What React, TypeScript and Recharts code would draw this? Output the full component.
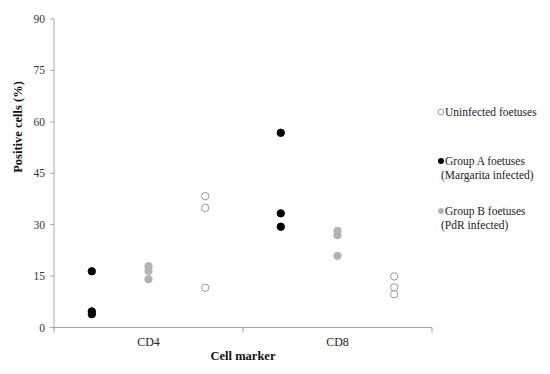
import React from 'react';
import { ScatterChart, Scatter, XAxis, YAxis } from 'recharts';

const categories = ['CD4', 'CD8'];
const yTicks = [0, 15, 30, 45, 60, 75, 90];

// values per category: [CD4 values, CD8 values]
const uninfected = [
  [38.3, 34.9, 11.6],
  [14.9, 11.7, 9.7],
];
const groupA = [
  [16.4, 4.7, 3.9],
  [56.8, 33.3, 29.4],
];
const groupB = [
  [17.9, 16.5, 14.1],
  [28.2, 26.9, 20.9],
];

const legendLabels = [
  ['Uninfected foetuses'],
  ['Group A foetuses', '(Margarita infected)'],
  ['Group B foetuses', '(PdR infected)'],
];

const FONT = '"Liberation Serif", "Times New Roman", serif';

// position of each group inside a category band (fraction of band)
const OFFSET_A = 0.2;
const OFFSET_B = 0.5;
const OFFSET_U = 0.8;

function build(series: number[][], offset: number) {
  const out: { x: number; y: number }[] = [];
  series.forEach((vals, ci) => {
    vals.forEach((v) => out.push({ x: ci + offset, y: v }));
  });
  return out;
}

const dataA = build(groupA, OFFSET_A);
const dataB = build(groupB, OFFSET_B);
const dataU = build(uninfected, OFFSET_U);

const xTicks: number[] = [];
for (let i = 0; i <= categories.length; i++) {
  xTicks.push(i);
  if (i < categories.length) xTicks.push(i + 0.5);
}

const XTick = (props: any) => {
  const { x, y, payload } = props;
  const v = payload.value;
  if (Number.isInteger(v)) {
    return <line x1={x} y1={y} x2={x} y2={y + 5} stroke="#a6a6a6" strokeWidth={1} />;
  }
  const label = categories[Math.floor(v)];
  return (
    <text x={x} y={y + 14} textAnchor="middle" dominantBaseline="central" fontFamily={FONT} fontSize={12} fill="#222">
      {label}
    </text>
  );
};

const dot = (fill: string, stroke: string) => (props: any) => (
  <circle cx={props.cx} cy={props.cy} r={3.7} fill={fill} stroke={stroke} strokeWidth={1} />
);

const LegendBox = () => {
  const markers = [
    <circle cx={4} cy={4} r={3} fill="#fff" stroke="#999" strokeWidth={1} />,
    <circle cx={4} cy={4} r={3} fill="#000" />,
    <circle cx={4} cy={4} r={3} fill="#b3b3b3" />,
  ];
  const tops = [0, 49, 99];
  return (
    <div style={{ position: 'absolute', left: 437, top: 105, width: 114, height: 140 }}>
      {legendLabels.map((lines, k) => (
        <div key={k} style={{ position: 'absolute', left: 0, top: tops[k], fontFamily: FONT, fontSize: 11.5, color: '#222', lineHeight: '14px' }}>
          <svg width={8} height={8} style={{ position: 'absolute', left: 0, top: 3 }}>{markers[k]}</svg>
          {lines.map((l, i) => (
            <div key={i} style={{ paddingLeft: i === 0 ? 8 : 4, whiteSpace: 'nowrap' }}>{l}</div>
          ))}
        </div>
      ))}
    </div>
  );
};

const YLabel = () => (
  <text
    x={18}
    y={127}
    transform="rotate(-90 18 127)"
    textAnchor="middle"
    dominantBaseline="central"
    fontFamily={FONT}
    fontSize={12.5}
    fontWeight="bold"
    fill="#111"
  >
    Positive cells (%)
  </text>
);

const XLabel = () => (
  <text x={243} y={356} textAnchor="middle" dominantBaseline="central" fontFamily={FONT} fontSize={12.5} fontWeight="bold" fill="#111">
    Cell marker
  </text>
);

export default function App() {
  return (
    <div style={{ position: 'absolute', left: 0, top: 0, width: 550, height: 374, background: '#fff' }}>
      <ScatterChart width={550} height={374} margin={{ top: 19, right: 118, bottom: 0, left: 0 }}>
        <XAxis
          type="number"
          dataKey="x"
          domain={[0, categories.length]}
          ticks={xTicks}
          interval={0}
          tickSize={0}
          tickMargin={0}
          tickLine={false}
          tick={<XTick />}
          axisLine={{ stroke: '#a6a6a6' }}
          height={46.5}
          label={<XLabel />}
        />
        <YAxis
          type="number"
          dataKey="y"
          domain={[0, 90]}
          ticks={yTicks}
          interval={0}
          width={54}
          tickSize={4}
          tickMargin={5}
          tickLine={{ stroke: '#a6a6a6' }}
          axisLine={{ stroke: '#a6a6a6' }}
          tick={{ fontFamily: FONT, fontSize: 11.5, fill: '#333' }}
          label={<YLabel />}
        />
        <Scatter name="Uninfected foetuses" data={dataU} isAnimationActive={false} shape={dot('#fff', '#999')} />
        <Scatter name="Group A foetuses (Margarita infected)" data={dataA} isAnimationActive={false} shape={dot('#000', '#000')} />
        <Scatter name="Group B foetuses (PdR infected)" data={dataB} isAnimationActive={false} shape={dot('#b3b3b3', '#b3b3b3')} />
      </ScatterChart>
      <LegendBox />
    </div>
  );
}
